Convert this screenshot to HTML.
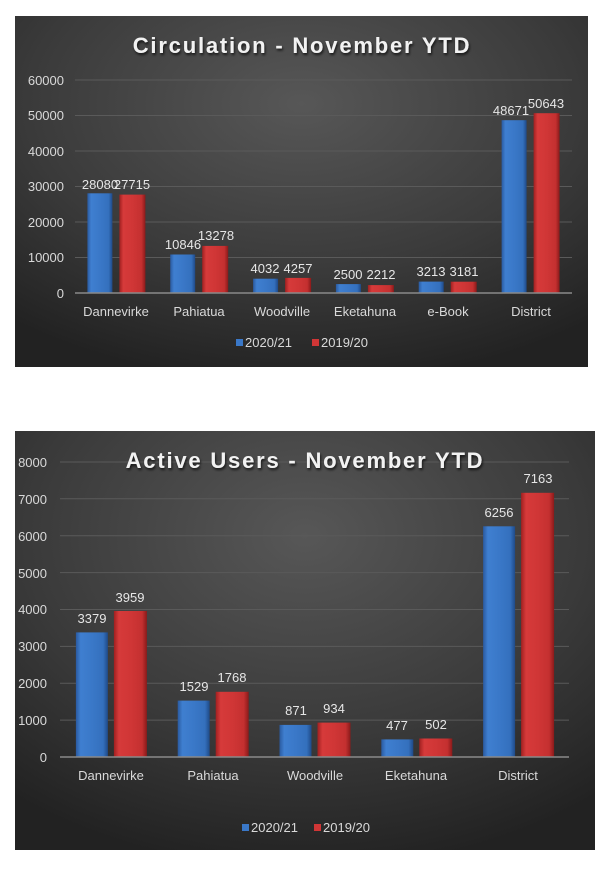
<!DOCTYPE html>
<html><head><meta charset="utf-8"><style>
html,body{margin:0;padding:0;background:#fff;}
svg{display:block;font-family:"Liberation Sans",Calibri,sans-serif;}
</style></head><body>
<svg width="608" height="871" viewBox="0 0 608 871" xmlns="http://www.w3.org/2000/svg">
<defs>
<radialGradient id="bg" cx="0.5" cy="0.25" r="0.8">
<stop offset="0" stop-color="#575757"/><stop offset="0.6" stop-color="#3a3a3a"/><stop offset="1" stop-color="#222"/>
</radialGradient>
<linearGradient id="bl" x1="0" x2="1" y1="0" y2="0">
<stop offset="0" stop-color="#2a5aa0"/><stop offset="0.15" stop-color="#3f7fd0"/><stop offset="0.5" stop-color="#3a78c8"/><stop offset="0.85" stop-color="#3470bd"/><stop offset="1" stop-color="#1f4a88"/>
</linearGradient>
<linearGradient id="rd" x1="0" x2="1" y1="0" y2="0">
<stop offset="0" stop-color="#a02020"/><stop offset="0.15" stop-color="#d63a3a"/><stop offset="0.5" stop-color="#d03636"/><stop offset="0.85" stop-color="#c43030"/><stop offset="1" stop-color="#8a1a1a"/>
</linearGradient>
<filter id="sh"><feDropShadow dx="1" dy="2" stdDeviation="1.2" flood-color="#000" flood-opacity="0.7"/></filter>
</defs>

<!-- Chart 1 -->
<rect x="15" y="16" width="573" height="351" fill="url(#bg)"/>
<text x="302" y="53" text-anchor="middle" font-size="22" font-weight="bold" fill="#f2f2f2" filter="url(#sh)" letter-spacing="1.8">Circulation - November YTD</text>
<g stroke="#5a5a5a" stroke-width="1">
<line x1="75" x2="572" y1="80" y2="80"/><line x1="75" x2="572" y1="115.5" y2="115.5"/><line x1="75" x2="572" y1="151" y2="151"/><line x1="75" x2="572" y1="186.5" y2="186.5"/><line x1="75" x2="572" y1="222" y2="222"/><line x1="75" x2="572" y1="257.5" y2="257.5"/>
</g>
<g font-size="13" fill="#d9d9d9" text-anchor="end">
<text x="64" y="85">60000</text><text x="64" y="120">50000</text><text x="64" y="156">40000</text><text x="64" y="191">30000</text><text x="64" y="227">20000</text><text x="64" y="262">10000</text><text x="64" y="298">0</text>
</g>
<g fill="url(#bl)">
<rect x="87.4" y="193.3" width="25" height="99.7"/><rect x="170.2" y="254.5" width="25" height="38.5"/><rect x="253.1" y="278.7" width="25" height="14.3"/><rect x="335.9" y="284.1" width="25" height="8.9"/><rect x="418.7" y="281.6" width="25" height="11.4"/><rect x="501.6" y="120.2" width="25" height="172.8"/>
</g>
<g fill="url(#rd)">
<rect x="119.4" y="194.6" width="26" height="98.4"/><rect x="202.2" y="245.9" width="26" height="47.1"/><rect x="285.1" y="277.9" width="26" height="15.1"/><rect x="367.9" y="285.1" width="26" height="7.9"/><rect x="450.7" y="281.7" width="26" height="11.3"/><rect x="533.6" y="113.2" width="26" height="179.8"/>
</g>
<line x1="75" x2="572" y1="293" y2="293" stroke="#8a8a8a" stroke-width="1.5"/>
<g font-size="13" fill="#e6e6e6" text-anchor="middle">
<text x="100" y="189">28080</text><text x="132" y="189">27715</text>
<text x="183" y="249">10846</text><text x="216" y="240">13278</text>
<text x="265" y="273">4032</text><text x="298" y="273">4257</text>
<text x="348" y="279">2500</text><text x="381" y="279">2212</text>
<text x="431" y="276">3213</text><text x="464" y="276">3181</text>
<text x="511" y="115">48671</text><text x="546" y="108">50643</text>
</g>
<g font-size="13" fill="#d9d9d9" text-anchor="middle">
<text x="116" y="316">Dannevirke</text><text x="199" y="316">Pahiatua</text><text x="282" y="316">Woodville</text><text x="365" y="316">Eketahuna</text><text x="448" y="316">e-Book</text><text x="531" y="316">District</text>
</g>
<rect x="236" y="339" width="7" height="7" fill="#3a78c8"/>
<text x="245" y="347" font-size="13" fill="#d9d9d9">2020/21</text>
<rect x="312" y="339" width="7" height="7" fill="#d03636"/>
<text x="321" y="347" font-size="13" fill="#d9d9d9">2019/20</text>

<!-- Chart 2 -->
<rect x="15" y="431" width="580" height="419" fill="url(#bg)"/>
<g stroke="#5a5a5a" stroke-width="1">
<line x1="60" x2="569" y1="462" y2="462"/><line x1="60" x2="569" y1="498.8" y2="498.8"/><line x1="60" x2="569" y1="535.7" y2="535.7"/><line x1="60" x2="569" y1="572.6" y2="572.6"/><line x1="60" x2="569" y1="609.5" y2="609.5"/><line x1="60" x2="569" y1="646.4" y2="646.4"/><line x1="60" x2="569" y1="683.2" y2="683.2"/><line x1="60" x2="569" y1="720.1" y2="720.1"/>
</g>
<text x="305" y="468" text-anchor="middle" font-size="22" font-weight="bold" fill="#f2f2f2" filter="url(#sh)" letter-spacing="1.8">Active Users - November YTD</text>
<g font-size="13" fill="#d9d9d9" text-anchor="end">
<text x="47" y="467">8000</text><text x="47" y="504">7000</text><text x="47" y="541">6000</text><text x="47" y="578">5000</text><text x="47" y="614">4000</text><text x="47" y="651">3000</text><text x="47" y="688">2000</text><text x="47" y="725">1000</text><text x="47" y="762">0</text>
</g>
<g fill="url(#bl)">
<rect x="75.9" y="632.4" width="32" height="124.6"/><rect x="177.7" y="700.6" width="32" height="56.4"/><rect x="279.5" y="724.9" width="32" height="32.1"/><rect x="381.3" y="739.4" width="32" height="17.6"/><rect x="483.1" y="526.3" width="32" height="230.7"/>
</g>
<g fill="url(#rd)">
<rect x="113.9" y="611" width="33" height="146"/><rect x="215.7" y="691.8" width="33" height="65.2"/><rect x="317.5" y="722.6" width="33" height="34.4"/><rect x="419.3" y="738.5" width="33" height="18.5"/><rect x="521.1" y="492.8" width="33" height="264.2"/>
</g>
<line x1="60" x2="569" y1="757" y2="757" stroke="#8a8a8a" stroke-width="1.5"/>
<g font-size="13" fill="#e6e6e6" text-anchor="middle">
<text x="92" y="623">3379</text><text x="130" y="602">3959</text>
<text x="194" y="691">1529</text><text x="232" y="682">1768</text>
<text x="296" y="715">871</text><text x="334" y="713">934</text>
<text x="397" y="730">477</text><text x="436" y="729">502</text>
<text x="499" y="517">6256</text><text x="538" y="483">7163</text>
</g>
<g font-size="13" fill="#d9d9d9" text-anchor="middle">
<text x="111" y="780">Dannevirke</text><text x="213" y="780">Pahiatua</text><text x="315" y="780">Woodville</text><text x="416" y="780">Eketahuna</text><text x="518" y="780">District</text>
</g>
<rect x="242" y="824" width="7" height="7" fill="#3a78c8"/>
<text x="251" y="832" font-size="13" fill="#d9d9d9">2020/21</text>
<rect x="314" y="824" width="7" height="7" fill="#d03636"/>
<text x="323" y="832" font-size="13" fill="#d9d9d9">2019/20</text>
</svg>
</body></html>
